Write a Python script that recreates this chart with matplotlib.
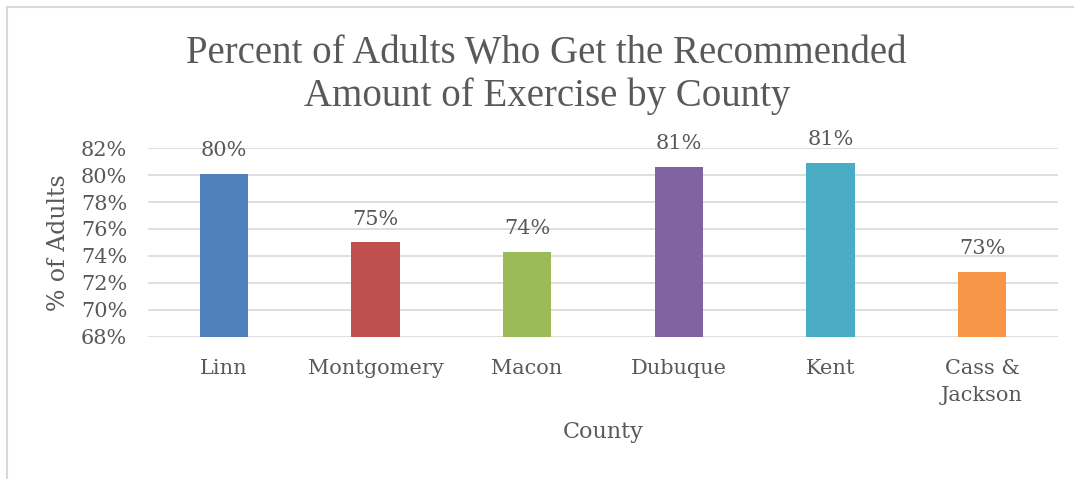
import matplotlib.pyplot as plt
from matplotlib.patches import Rectangle

counties = ['Linn', 'Montgomery', 'Macon', 'Dubuque', 'Kent', 'Cass &\nJackson']
pct = [80.1, 75.0, 74.3, 80.6, 80.9, 72.8]
labels = ['80%', '75%', '74%', '81%', '81%', '73%']
colors = ['#4f81bd', '#c0504d', '#9bbb59', '#8064a2', '#4bacc6', '#f79646']
yticks = [68, 70, 72, 74, 76, 78, 80, 82]

txt = '#595959'
serif = 'DejaVu Serif'

fig = plt.figure(figsize=(10.74, 4.79), dpi=100)
ax = fig.add_axes([0.1378, 0.2965, 0.8472, 0.3945])

x = range(len(counties))
ax.bar(x, [p - 68 for p in pct], bottom=68, width=0.32, color=colors, zorder=3)

for i, (p, lab) in enumerate(zip(pct, labels)):
    ax.annotate(lab, (i, p), xytext=(0, 10), textcoords='offset points',
                ha='center', va='bottom', fontsize=15, color=txt,
                family=serif, annotation_clip=False)

ax.set_ylim(68, 82)
ax.set_xlim(-0.5, len(counties) - 0.5)
ax.set_yticks(yticks)
ax.set_yticklabels(['%d%%' % t for t in yticks], family=serif, fontsize=15, color=txt)
ax.set_xticks(list(x))
ax.set_xticklabels(counties, family=serif, fontsize=15, color=txt, linespacing=1.5)
ax.tick_params(length=0)
ax.tick_params(axis='y', pad=15)
ax.tick_params(axis='x', pad=16)
ax.grid(axis='y', color='#d9d9d9', linewidth=1.2, zorder=0)
for s in ax.spines.values():
    s.set_visible(False)

ax.set_ylabel('% of Adults', family=serif, fontsize=17, color=txt, labelpad=8)
ax.set_xlabel('County', family=serif, fontsize=16, color=txt, labelpad=12)

fig.text(0.509, 0.843, 'Percent of Adults Who Get the Recommended\nAmount of Exercise by County',
         ha='center', va='center', fontsize=28, color=txt, family='Liberation Serif',
         linespacing=1.2)

# light frame of the embedded chart
fig.patches.append(Rectangle((7 / 1074, -0.1), 1.2, 1 - 7 / 479 + 0.1,
                             transform=fig.transFigure, fill=False,
                             edgecolor='#d9d9d9', linewidth=1.5))

fig.savefig('out.png', dpi=100)
